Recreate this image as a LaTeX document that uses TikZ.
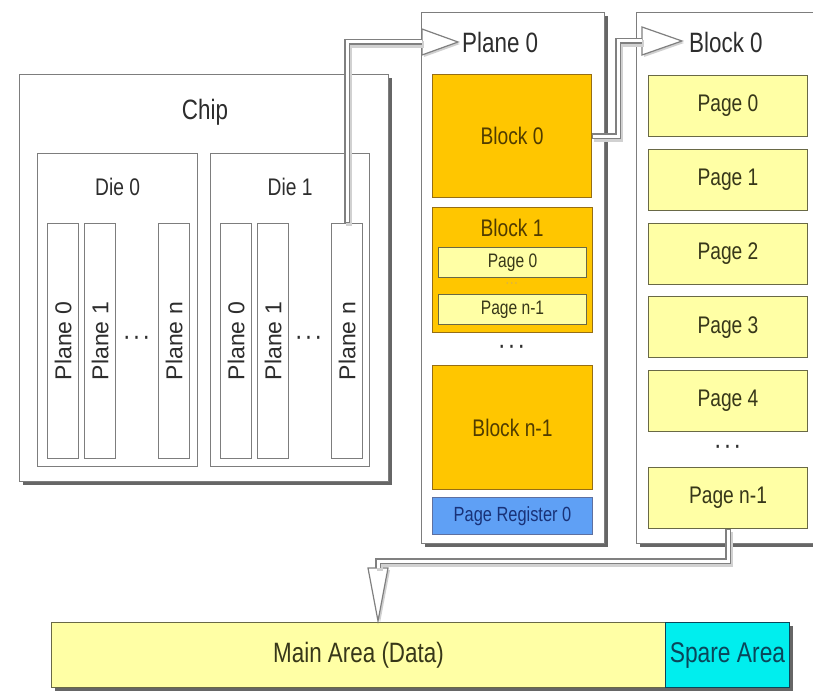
\documentclass[tikz,border=0pt]{standalone}
\usepackage{fontspec}
\setmainfont[FakeStretch=0.8]{Liberation Sans}
\newfontfamily\uprightsf{Liberation Sans}
\usepackage{tikz}
\usetikzlibrary{shadows}
\definecolor{blockfill}{RGB}{255,198,0}
\definecolor{blockedge}{RGB}{150,110,20}
\definecolor{blockink}{RGB}{80,60,0}
\definecolor{pagefill}{RGB}{255,255,165}
\definecolor{pageedge}{RGB}{105,105,70}
\definecolor{pageink}{RGB}{55,55,25}
\definecolor{regfill}{RGB}{95,160,245}
\definecolor{regink}{RGB}{25,50,120}
\definecolor{sparefill}{RGB}{0,238,238}
\definecolor{spareink}{RGB}{10,70,90}
\definecolor{boxedge}{RGB}{125,125,125}
\definecolor{ink}{RGB}{45,45,45}

\begin{document}
\begin{tikzpicture}[x=1pt, y=-1pt,
  outer/.style={draw=boxedge, line width=1.4pt, fill=white, anchor=north west, inner sep=0pt,
    drop shadow={shadow xshift=3pt, shadow yshift=-3pt, fill=black!80, opacity=0.75}},
  frame/.style={draw=boxedge, line width=1.3pt, anchor=north west, inner sep=0pt},
  blockbox/.style={draw=blockedge, line width=1pt, fill=blockfill, anchor=north west, inner sep=0pt,
    text=blockink, font=\fontsize{24}{26}\selectfont},
  pagebox/.style={draw=pageedge, line width=1pt, fill=pagefill, anchor=north west, inner sep=0pt,
    text=pageink, font=\fontsize{24}{26}\selectfont},
  head/.style={text=ink, font=\fontsize{28}{30}\selectfont, inner sep=0pt},
  dielbl/.style={text=ink, font=\fontsize{24}{26}\selectfont, inner sep=0pt},
  planelbl/.style={text=ink, font=\uprightsf\fontsize{23}{25}\selectfont, inner sep=0pt, rotate=90},
  dots/.style={text=ink, font=\bfseries\fontsize{20}{22}\selectfont, inner sep=0pt},
  arrowhead/.style={draw=gray, line width=1.2pt, fill=white, line join=miter,
    drop shadow={shadow xshift=2pt, shadow yshift=-2pt, fill=black!30, opacity=0.6}},
  pipe/.style={draw=gray, line width=5.5pt, line join=miter,
    preaction={draw=black!18, line width=6.5pt, transform canvas={shift={(2pt,-2.5pt)}}},
    postaction={draw=white, line width=3pt, shorten <=1.3pt}}
]
\clip (0,0) rectangle (813,690);
\fill[white] (0,0) rectangle (813,690);

% chip with two dies
\node[outer, minimum width=369, minimum height=407] (chip) at (19,74) {};
\node[head] at (205,112) {Chip};
\node[frame, minimum width=160, minimum height=313] (die0) at (37,153) {};
\node[frame, minimum width=159, minimum height=313] (die1) at (210,153) {};
\node[dielbl] at (die0.north |- 0,187) {Die 0};
\node[dielbl] at (die1.north |- 0,187) {Die 1};
\foreach \px/\nm/\txt in {47/d0a/Plane 0, 84/d0b/Plane 1, 158/d0n/Plane n,
                          220/d1a/Plane 0, 257/d1b/Plane 1, 331/d1n/Plane n}{
  \node[frame, minimum width=31, minimum height=235] (\nm) at (\px,223) {};
  \node[planelbl] at (\nm.center) {\txt};
}
\node[dots] at (137,340) {· · ·};
\node[dots] at (309,340) {· · ·};

% plane 0
\node[outer, minimum width=183, minimum height=531] (p0box) at (421,12) {};
\node[head, anchor=west] (p0lbl) at (462,42) {Plane 0};
\node[blockbox, minimum width=159, minimum height=123] (blk0) at (432,74) {Block 0};
\node[blockbox, minimum width=160, minimum height=125] (blk1) at (432,207) {};
\node[text=blockink, font=\fontsize{24}{26}\selectfont, inner sep=0pt] at (512,228) {Block 1};
\node[pagebox, minimum width=148, minimum height=30, font=\fontsize{19.5}{21}\selectfont] (bpg0) at (438,247) {Page 0};
\node[text=blockedge!60, font=\bfseries\fontsize{9}{10}\selectfont, inner sep=0pt] at (512,285) {· · ·};
\node[pagebox, minimum width=148, minimum height=30, font=\fontsize{19.5}{21}\selectfont] (bpgn) at (438,294) {Page n-1};
\node[dots] at (512,349) {· · ·};
\node[blockbox, minimum width=160, minimum height=124] (blkn) at (432,365) {Block n-1};
\node[draw=regink!70, line width=1pt, fill=regfill, anchor=north west, inner sep=0pt,
  minimum width=160, minimum height=37, text=regink, font=\fontsize{20.5}{22}\selectfont] (preg) at (432,497) {Page Register 0};

% block 0
\node[outer, minimum width=200, minimum height=531] (b0box) at (636,12) {};
\node[head, anchor=west] (b0lbl) at (689,42) {Block 0};
\foreach \i in {0,...,4}{
  \node[pagebox, minimum width=159, minimum height=61] (pg\i) at (648,{75+73.8*\i}) {Page \i};
}
\node[dots] at (728,449) {· · ·};
\node[pagebox, minimum width=159, minimum height=61] (pgn) at (648,467) {Page n-1};

% page layout
\node[pagebox, minimum width=614, minimum height=65, font=\fontsize{28}{30}\selectfont,
  drop shadow={shadow xshift=3pt, shadow yshift=-3pt, fill=black!80, opacity=0.75}] (mainarea) at (51,622) {Main Area (Data)};
\node[draw=spareink, line width=1pt, fill=sparefill, anchor=north west, inner sep=0pt,
  minimum width=124, minimum height=65, text=spareink, font=\fontsize{28.5}{30}\selectfont,
  drop shadow={shadow xshift=3pt, shadow yshift=-3pt, fill=black!80, opacity=0.75}] (spare) at (665,622) {Spare Area};

% hollow arrows
\coordinate (p0tip) at (458,42);
\coordinate (p0base) at (422,42);
\coordinate (b0tip) at (682,41);
\coordinate (b0base) at (642,41);
\coordinate (matip) at (378,621);
\coordinate (mabase) at (378,568);
\draw[arrowhead] (p0tip) -- (p0base |- 0,29) -- (p0base |- 0,55) -- cycle;
\draw[arrowhead] (b0tip) -- (b0base |- 0,27) -- (b0base |- 0,55) -- cycle;
\draw[arrowhead] (matip) -- (368,568) -- (388,568) -- cycle;
\draw[pipe] (d1n.north) |- (p0base);
\draw[pipe] (blk0.east) -- ++(26,0) |- (b0base);
\draw[pipe] (pgn.south) -- ++(0,32) -| (mabase);
\end{tikzpicture}
\end{document}
